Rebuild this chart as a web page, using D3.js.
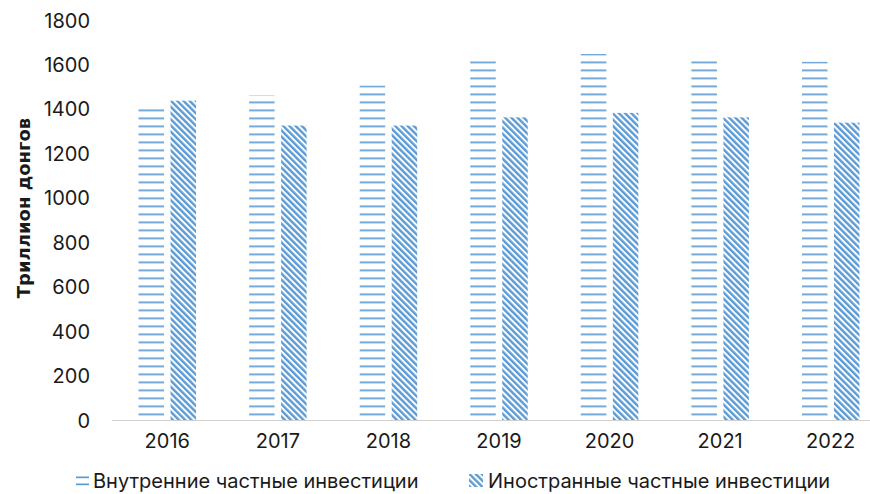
<!DOCTYPE html>
<html><head><meta charset="utf-8">
<script src="https://cdn.jsdelivr.net/npm/d3@7"></script>
<style>
body{margin:0;background:#fff;}
svg{display:block;}
text{font-family:Inter,"Noto Sans",sans-serif;fill:#1a1a1a;}
</style></head><body>
<svg id="c" width="870" height="494"></svg>
<script>
const years = ["2016","2017","2018","2019","2020","2021","2022"];
const domestic = [1400, 1462, 1505, 1615, 1647, 1615, 1612];
const foreign = [1437, 1325, 1325, 1362, 1382, 1362, 1338];
const seriesNames = ["Внутренние частные инвестиции", "Иностранные частные инвестиции"];
const yTicks = [0,200,400,600,800,1000,1200,1400,1600,1800];
const yTitle = "Триллион донгов";

const svg = d3.select("#c");
const color = "#5B9BD5";
const defs = svg.append("defs");
const p1 = defs.append("pattern").attr("id","hline").attr("patternUnits","userSpaceOnUse")
  .attr("width",8).attr("height",8).attr("y",6.3-0.8);
p1.append("rect").attr("x",0).attr("y",0).attr("width",8).attr("height",1.7).attr("fill",color);
const p2 = defs.append("pattern").attr("id","diag").attr("patternUnits","userSpaceOnUse")
  .attr("width",4.4).attr("height",10).attr("patternTransform","rotate(-45)");
p2.append("rect").attr("x",0).attr("y",0).attr("width",2.4).attr("height",10).attr("fill",color);

const x = d3.scaleBand().domain(years).range([112, 886]).paddingInner(0).paddingOuter(0);
const y = d3.scaleLinear().domain([0,1800]).range([420,20]);
const barW = 25.5, gap = 6.5;

// baseline
svg.append("line").attr("x1",112).attr("x2",886).attr("y1",y(0)+0.5).attr("y2",y(0)+0.5)
  .attr("stroke","#d0d0d0").attr("stroke-width",1.2);

const g = svg.append("g");
years.forEach((yr,i)=>{
  const c = x(yr) + x.bandwidth()/2;
  g.append("rect").attr("x",c - gap/2 - barW).attr("width",barW)
    .attr("y",y(domestic[i])).attr("height",y(0)-y(domestic[i])).attr("fill","url(#hline)");
  g.append("rect").attr("x",c + gap/2).attr("width",barW)
    .attr("y",y(foreign[i])).attr("height",y(0)-y(foreign[i])).attr("fill","url(#diag)");
});

// y axis labels
const yAxis = d3.axisLeft(y).tickValues(yTicks).tickFormat(d3.format("d")).tickSize(0).tickPadding(0);
const ya = svg.append("g").attr("transform","translate(90,0)").call(yAxis);
ya.select(".domain").remove();
ya.selectAll("text").attr("font-size",20).attr("fill","#1a1a1a").attr("dy","0.35em")
  .style("font-family","Inter,'Noto Sans',sans-serif");

// x axis labels
const xAxis = d3.axisBottom(x).tickSize(0).tickPadding(0);
const xa = svg.append("g").attr("transform","translate(0,434)").call(xAxis);
xa.select(".domain").remove();
xa.selectAll("text").attr("font-size",20).attr("fill","#1a1a1a").attr("dy","0.71em")
  .style("font-family","Inter,'Noto Sans',sans-serif");

// y title
svg.append("text").attr("transform","translate(30,208) rotate(-90)")
  .attr("text-anchor","middle").attr("font-size",18).attr("font-weight","bold")
  .style("font-family","'DejaVu Sans',sans-serif").text(yTitle);

// legend
const lg = svg.append("g");
lg.append("rect").attr("x",76).attr("y",476.5).attr("width",13).attr("height",1.7).attr("fill",color);
lg.append("rect").attr("x",76).attr("y",483.5).attr("width",13).attr("height",1.7).attr("fill",color);
lg.append("text").attr("x",93).attr("y",488).attr("font-size",20).text(seriesNames[0]);
lg.append("rect").attr("x",469).attr("y",474).attr("width",14).attr("height",13).attr("fill","url(#diag)");
lg.append("text").attr("x",488).attr("y",488).attr("font-size",20).text(seriesNames[1]);
</script>
</body></html>
